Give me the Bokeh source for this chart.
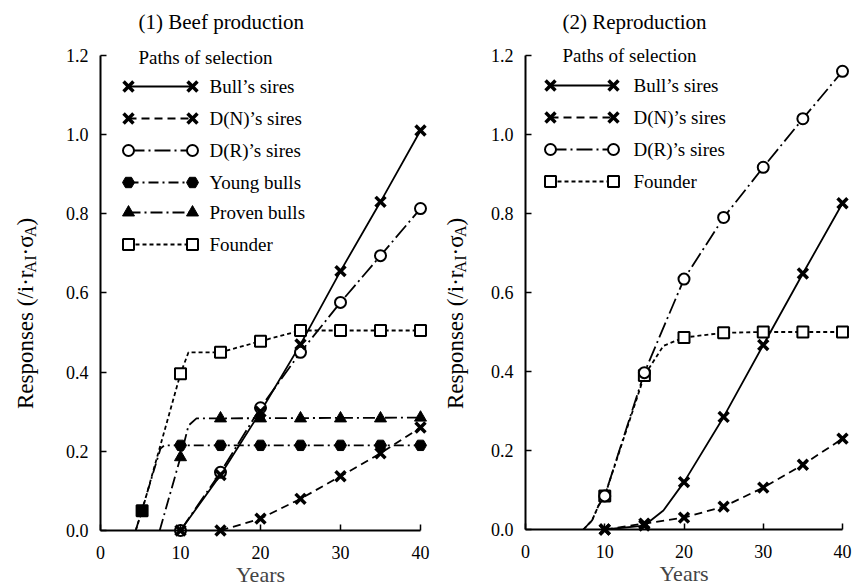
import math
from bokeh.plotting import figure
from bokeh.models import Range1d, Label, FixedTicker, NumeralTickFormatter
from bokeh.layouts import row
from bokeh.embed import file_html
from bokeh.resources import INLINE

# ---------------- data: (1) Beef production ----------------
beef_years = [10, 15, 20, 25, 30, 35, 40]
beef_bulls_sires = [0.0, 0.14, 0.30, 0.47, 0.655, 0.83, 1.01]
beef_dn_years = [15, 20, 25, 30, 35, 40]
beef_dn_sires = [0.0, 0.03, 0.08, 0.137, 0.195, 0.26]
beef_dr_sires = [0.0, 0.147, 0.31, 0.45, 0.576, 0.694, 0.813]
beef_young_bulls = [0.215, 0.215, 0.215, 0.215, 0.215, 0.215, 0.215]
beef_proven_bulls = [0.185, 0.283, 0.283, 0.283, 0.283, 0.283, 0.285]
beef_founder_years = [5.2, 10, 15, 20, 25, 30, 35, 40]
beef_founder = [0.05, 0.396, 0.45, 0.478, 0.505, 0.505, 0.505, 0.505]
# unmarked bends of the curves
beef_young_path_x = [4.4, 7.5, 8.0, 40]
beef_young_path_y = [0.0, 0.207, 0.215, 0.215]
beef_proven_path_x = [7.4, 10, 11.0, 12.0, 40]
beef_proven_path_y = [0.0, 0.185, 0.265, 0.283, 0.285]
beef_founder_path_x = [4.4, 5.2, 10, 11.0, 15, 20, 25, 30, 35, 40]
beef_founder_path_y = [0.0, 0.05, 0.396, 0.45, 0.45, 0.478, 0.505, 0.505, 0.505, 0.505]

# ---------------- data: (2) Reproduction ----------------
repro_years = [10, 15, 20, 25, 30, 35, 40]
repro_bulls_sires = [0.0, 0.01, 0.12, 0.285, 0.467, 0.648, 0.826]
repro_dn_sires = [0.0, 0.015, 0.03, 0.058, 0.106, 0.164, 0.23]
repro_dr_sires = [0.085, 0.397, 0.634, 0.79, 0.917, 1.04, 1.16]
repro_founder = [0.085, 0.39, 0.486, 0.498, 0.5, 0.5, 0.5]
repro_bulls_path_x = [10, 15, 17.4, 20, 25, 30, 35, 40]
repro_bulls_path_y = [0.0, 0.01, 0.048, 0.12, 0.285, 0.467, 0.648, 0.826]
repro_dr_path_x = [7.3, 8.4, 9.2, 10, 15, 20, 25, 30, 35, 40]
repro_dr_path_y = [0.0, 0.023, 0.06, 0.085, 0.397, 0.634, 0.79, 0.917, 1.04, 1.16]
repro_founder_path_x = [7.3, 8.4, 9.2, 10, 15, 17.4, 20, 25, 30, 35, 40]
repro_founder_path_y = [0.0, 0.023, 0.06, 0.085, 0.39, 0.465, 0.486, 0.498, 0.5, 0.5, 0.5]

x_ticks = [0, 10, 20, 30, 40]
y_ticks = [0.0, 0.2, 0.4, 0.6, 0.8, 1.0, 1.2]
legend_title = "Paths of selection"

FONT = "Liberation Serif"
FIG_H = 586
STYLES = {
    "bulls": dict(dash="solid", marker="x"),
    "dn": dict(dash="8 5", marker="x"),
    "dr": dict(dash="16 4 2 4", marker="circle"),
    "young": dict(dash="10 4 2 4", marker="hex"),
    "proven": dict(dash="12 4 2 4", marker="triangle"),
    "founder": dict(dash="4 3", marker="square"),
}
LABELS = {
    "bulls": "Bull\u2019s sires", "dn": "D(N)\u2019s sires", "dr": "D(R)\u2019s sires",
    "young": "Young bulls", "proven": "Proven bulls", "founder": "Founder",
}

GLYPH_W = {"R": 667, "e": 444, "s": 389, "p": 500, "o": 500, "n": 500, " ": 250, "(": 333,
           ")": 333, "/": 278, "i": 278, "\u00b7": 250, "r": 333, "A": 722, "I": 333, "\u03c3": 550}


def tw(s, size):
    return sum(GLYPH_W.get(c, 500) for c in s) / 1000.0 * size


def add_label(p, text, x, y, size, x_units="data", y_units="data", angle=0.0,
              align="left", baseline="middle"):
    p.add_layout(Label(x=x, y=y, x_units=x_units, y_units=y_units, text=text,
                       text_font=FONT, text_font_size=f"{size}px", text_color="black",
                       angle=angle, text_align=align, text_baseline=baseline))


def draw_marks(p, xs, ys, kind, fills=None):
    if kind == "x":
        p.scatter(xs, ys, marker="x", size=14, line_width=3.5, line_color="black")
    elif kind == "circle":
        p.scatter(xs, ys, marker="circle", size=11, fill_color="white",
                  line_color="black", line_width=2)
    elif kind == "hex":
        p.scatter(xs, ys, marker="hex", size=12, fill_color="black", line_color="black")
    elif kind == "triangle":
        p.scatter(xs, ys, marker="triangle", size=12, fill_color="black", line_color="black")
    elif kind == "square":
        p.scatter(xs, ys, marker="square", size=11,
                  fill_color=fills if fills is not None else "white",
                  line_color="black", line_width=2)


def make_panel(fig_left, width, x0_px, px_per_year, y0_px, px_per_unit,
               title, title_pos, series, legend_keys, leg, ylabel_pos):
    # the frame covers the whole canvas; axes are placed at x=0 / y=0
    x_start = (fig_left - x0_px) / px_per_year
    x_end = (fig_left + width - x0_px) / px_per_year
    y_end = y0_px / px_per_unit
    y_start = (y0_px - FIG_H) / px_per_unit
    p = figure(width=width, height=FIG_H, x_range=Range1d(x_start, x_end),
               y_range=Range1d(y_start, y_end), output_backend="svg", toolbar_location=None,
               min_border=0, outline_line_color=None, background_fill_color="white",
               border_fill_color="white")
    p.grid.visible = False
    for ax, ticks, bounds in ((p.xaxis[0], x_ticks, (0, 40)), (p.yaxis[0], y_ticks, (0, 1.2))):
        ax.fixed_location = 0
        ax.bounds = bounds
        ax.ticker = FixedTicker(ticks=ticks)
        ax.axis_line_width = 2
        ax.axis_line_color = "black"
        ax.major_tick_in = 6
        ax.major_tick_out = 0
        ax.major_tick_line_width = 1.5
        ax.minor_tick_line_color = None
        ax.major_label_text_font = FONT
        ax.major_label_text_font_size = "18px"
        ax.major_label_text_color = "black"
    p.yaxis[0].formatter = NumeralTickFormatter(format="0.0")
    p.yaxis[0].major_label_standoff = 12
    p.xaxis[0].major_label_standoff = 15
    p.xaxis[0].axis_label = "Years"
    p.xaxis[0].axis_label_text_font = FONT
    p.xaxis[0].axis_label_text_font_size = "22px"
    p.xaxis[0].axis_label_text_font_style = "normal"
    p.xaxis[0].axis_label_standoff = 0

    def dx(px):
        return (px - x0_px) / px_per_year

    def dy(py):
        return (y0_px - py) / px_per_unit

    def sx(px):
        return px - fig_left

    def sy(py):
        return FIG_H - py

    # curves
    for key, xs, ys, mx, my, fills in series:
        p.line(xs, ys, line_color="black", line_width=1.8, line_dash=STYLES[key]["dash"])
    for key, xs, ys, mx, my, fills in series:
        draw_marks(p, mx, my, STYLES[key]["marker"], fills)

    # legend drawn like the original: marker at both ends of a line sample
    mx0, mx1, txt_x, rows, title_xy = leg
    add_label(p, legend_title, sx(title_xy[0]), sy(title_xy[1]), 19,
              x_units="screen", y_units="screen")
    for key, ry in zip(legend_keys, rows):
        st = STYLES[key]
        yy = dy(ry)
        p.line([dx(mx0), dx(mx1)], [yy, yy], line_color="black", line_width=1.8,
               line_dash=st["dash"])
        draw_marks(p, [dx(mx0), dx(mx1)], [yy, yy], st["marker"])
        add_label(p, LABELS[key], sx(txt_x), sy(ry), 19, x_units="screen", y_units="screen")

    # title
    add_label(p, title, sx(title_pos[0]), sy(title_pos[1]), 21, x_units="screen",
              y_units="screen")

    # rotated y-axis label with subscripts
    f = 23
    sub = round(f * 0.68)
    pieces = [("Responses (/i\u00b7r", False), ("AI", True), ("\u00b7\u03c3", False),
              ("A", True), (")", False)]
    widths = [tw(t, sub if s else f) for t, s in pieces]
    total = sum(widths)
    base_x, center_y = ylabel_pos
    y = sy(center_y) - total / 2
    for (t, s), w in zip(pieces, widths):
        add_label(p, t, sx(base_x) + (5 if s else 0), y, sub if s else f,
                  x_units="screen", y_units="screen", angle=math.pi / 2,
                  align="left", baseline="alphabetic")
        y += w
    return p


beef_series = [
    ("young", beef_young_path_x, beef_young_path_y, beef_years, beef_young_bulls, None),
    ("proven", beef_proven_path_x, beef_proven_path_y, beef_years, beef_proven_bulls, None),
    ("founder", beef_founder_path_x, beef_founder_path_y, beef_founder_years, beef_founder,
     ["black"] + ["white"] * (len(beef_founder) - 1)),
    ("dn", beef_dn_years, beef_dn_sires, beef_dn_years, beef_dn_sires, None),
    ("dr", beef_years, beef_dr_sires, beef_years, beef_dr_sires, None),
    ("bulls", beef_years, beef_bulls_sires, beef_years, beef_bulls_sires, None),
]
repro_series = [
    ("founder", repro_founder_path_x, repro_founder_path_y, repro_years, repro_founder, None),
    ("dr", repro_dr_path_x, repro_dr_path_y, repro_years, repro_dr_sires, None),
    ("dn", repro_years, repro_dn_sires, repro_years, repro_dn_sires, None),
    ("bulls", repro_bulls_path_x, repro_bulls_path_y, repro_years, repro_bulls_sires, None),
]

p1 = make_panel(0, 435, 100, 8.0, 530, 396, "(1) Beef production", (138, 21.5), beef_series,
                ["bulls", "dn", "dr", "young", "proven", "founder"],
                (128, 192, 209, [86, 118, 150, 182, 212, 244], (138, 57)), (25, 313))
p2 = make_panel(435, 419, 525, 7.925, 529, 395, "(2) Reproduction", (562, 21), repro_series,
                ["bulls", "dn", "dr", "founder"],
                (550, 613, 633, [85, 117, 149, 181], (562, 55)), (455, 313))

layout = row(p1, p2)
open("out.html", "w").write(file_html(layout, INLINE))
